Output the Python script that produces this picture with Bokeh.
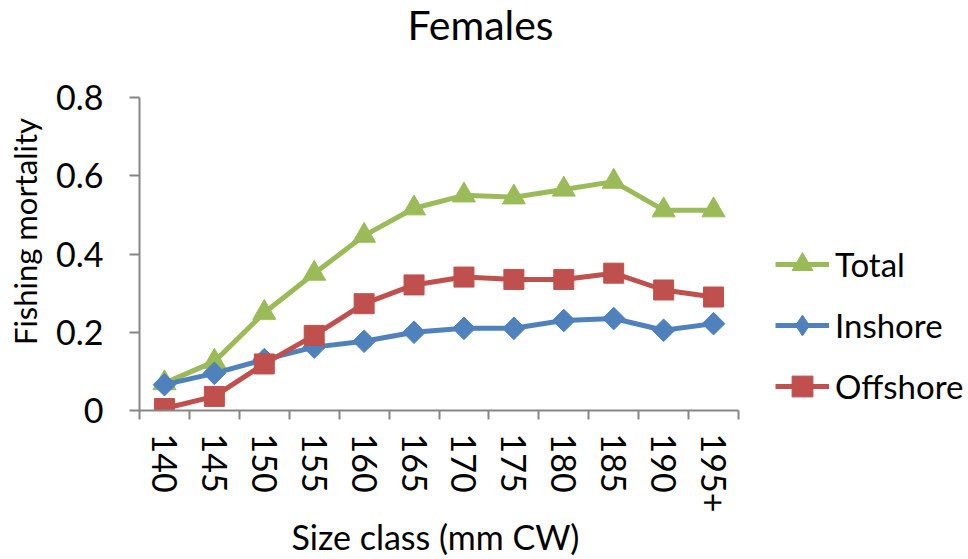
import math
from bokeh.plotting import figure
from bokeh.models import (FixedTicker, CustomJSTickFormatter, NumeralTickFormatter,
                          Legend, LegendItem, Range1d, Label, LinearAxis)
from bokeh.embed import file_html
from bokeh.resources import INLINE

categories = ["140", "145", "150", "155", "160", "165", "170", "175", "180", "185", "190", "195+"]
total    = [0.07, 0.125, 0.25, 0.35, 0.447, 0.517, 0.55, 0.545, 0.565, 0.585, 0.512, 0.512]
inshore  = [0.066, 0.095, 0.13, 0.162, 0.177, 0.2, 0.21, 0.21, 0.23, 0.235, 0.205, 0.222]
offshore = [0.005, 0.036, 0.119, 0.192, 0.273, 0.321, 0.341, 0.335, 0.335, 0.351, 0.308, 0.29]
y_ticks = [0, 0.2, 0.4, 0.6, 0.8]
Y_MAX = 0.8
TITLE = "Females"
X_LABEL = "Size class (mm CW)"
Y_LABEL = "Fishing mortality"

FONT = "Lato"
GREEN, BLUE, RED = "#9BBB59", "#4F81BD", "#C0504D"
AXIS = "#868686"

# layout: plotting frame spans the whole window right/top; axes are bounded to the data area
W, H = 968, 559
LEFT, BOTTOM = 139, 149
AX_RIGHT, AX_TOP = 738, 97
frame_w, frame_h = W - LEFT, H - BOTTOM
n = len(categories)
px_per_x = (AX_RIGHT - LEFT) / n
px_per_y = (frame_h - AX_TOP) / Y_MAX
x_end = frame_w / px_per_x
y_end = frame_h / px_per_y
x_label_pos = (435 - LEFT) / px_per_x          # where the x title is centred
y_label_pos = (frame_h - 231) / px_per_y       # where the y title is centred

xs = [i + 0.5 for i in range(n)]

p = figure(width=W, height=H, output_backend="svg", toolbar_location=None,
           x_range=Range1d(0, x_end), y_range=Range1d(0, y_end),
           min_border_left=LEFT, min_border_right=0, min_border_top=0, min_border_bottom=BOTTOM)
p.outline_line_color = None
p.xgrid.visible = False
p.ygrid.visible = False
p.background_fill_color = "white"
p.border_fill_color = "white"

# x axis
xa = p.xaxis[0]
xa.bounds = (0, n)
xa.ticker = FixedTicker(ticks=xs, minor_ticks=list(range(n + 1)))
xa.formatter = CustomJSTickFormatter(args=dict(cats=categories),
                                     code="return cats[Math.floor(tick)];")
xa.major_tick_line_color = None
xa.major_tick_out = 0
xa.major_tick_in = 0
xa.minor_tick_out = 9
xa.minor_tick_in = 0
xa.minor_tick_line_color = AXIS
xa.minor_tick_line_width = 2
xa.axis_line_color = AXIS
xa.axis_line_width = 2
xa.major_label_orientation = "vertical"
xa.major_label_standoff = 14
xa.major_label_text_font = FONT
xa.major_label_text_font_size = "34px"
xa.major_label_text_color = "black"

# x title, carried by a bare axis so that it can be centred on the data area
xt = LinearAxis(ticker=FixedTicker(ticks=[x_label_pos], minor_ticks=[]),
                formatter=CustomJSTickFormatter(args=dict(t=X_LABEL), code="return t;"),
                axis_line_color=None, major_tick_line_color=None, minor_tick_line_color=None,
                major_tick_out=0, major_tick_in=0, minor_tick_out=0, minor_tick_in=0,
                major_label_standoff=0, major_label_text_font=FONT,
                major_label_text_font_size="34px", major_label_text_color="black")
p.add_layout(xt, "below")

# y axis
ya = p.yaxis[0]
ya.bounds = (0, Y_MAX)
ya.ticker = FixedTicker(ticks=y_ticks, minor_ticks=[])
ya.formatter = NumeralTickFormatter(format="0.[0]")
ya.major_tick_out = 10
ya.major_tick_in = 0
ya.major_tick_line_color = AXIS
ya.major_tick_line_width = 2
ya.minor_tick_line_color = None
ya.axis_line_color = AXIS
ya.axis_line_width = 2
ya.major_label_standoff = 26
ya.major_label_text_font = FONT
ya.major_label_text_font_size = "34px"
ya.major_label_text_color = "black"

yt = LinearAxis(ticker=FixedTicker(ticks=[y_label_pos], minor_ticks=[]),
                formatter=CustomJSTickFormatter(args=dict(t=Y_LABEL), code="return t;"),
                axis_line_color=None, major_tick_line_color=None, minor_tick_line_color=None,
                major_tick_out=0, major_tick_in=0, minor_tick_out=0, minor_tick_in=0,
                major_label_standoff=10, major_label_orientation="vertical",
                major_label_text_font=FONT,
                major_label_text_font_size="31px", major_label_text_color="black")
p.add_layout(yt, "left")

lw = 5
l_t = p.line(xs, total, line_color=GREEN, line_width=lw)
m_t = p.scatter(xs, total, marker="triangle", size=23, fill_color=GREEN, line_color=GREEN)
l_i = p.line(xs, inshore, line_color=BLUE, line_width=lw)
# small diamonds hidden under the rotated squares; they give the legend its diamond swatch
k_i = p.scatter(xs, inshore, marker="diamond", size=15, fill_color=BLUE, line_color=BLUE)
m_i = p.scatter(xs, inshore, marker="square", size=16, angle=math.pi / 4,
                fill_color=BLUE, line_color=BLUE)
l_o = p.line(xs, offshore, line_color=RED, line_width=lw)
m_o = p.scatter(xs, offshore, marker="square", size=20, fill_color=RED, line_color=RED)

legend = Legend(items=[LegendItem(label="Total", renderers=[l_t, m_t]),
                       LegendItem(label="Inshore", renderers=[l_i, k_i]),
                       LegendItem(label="Offshore", renderers=[l_o, m_o])],
                location=(636, -2), orientation="vertical",
                glyph_width=54, glyph_height=52, label_height=52, spacing=9,
                label_standoff=6, padding=0, margin=0,
                border_line_color=None, background_fill_alpha=0,
                label_text_font=FONT, label_text_font_size="33px", label_text_color="black")
p.add_layout(legend, "center")

title = Label(x=480 - LEFT, y=frame_h - 24, x_units="screen", y_units="screen",
              text=TITLE, text_font=FONT, text_font_size="41px",
              text_align="center", text_baseline="middle", text_color="black")
p.add_layout(title)

open("out.html", "w").write(file_html(p, INLINE))
